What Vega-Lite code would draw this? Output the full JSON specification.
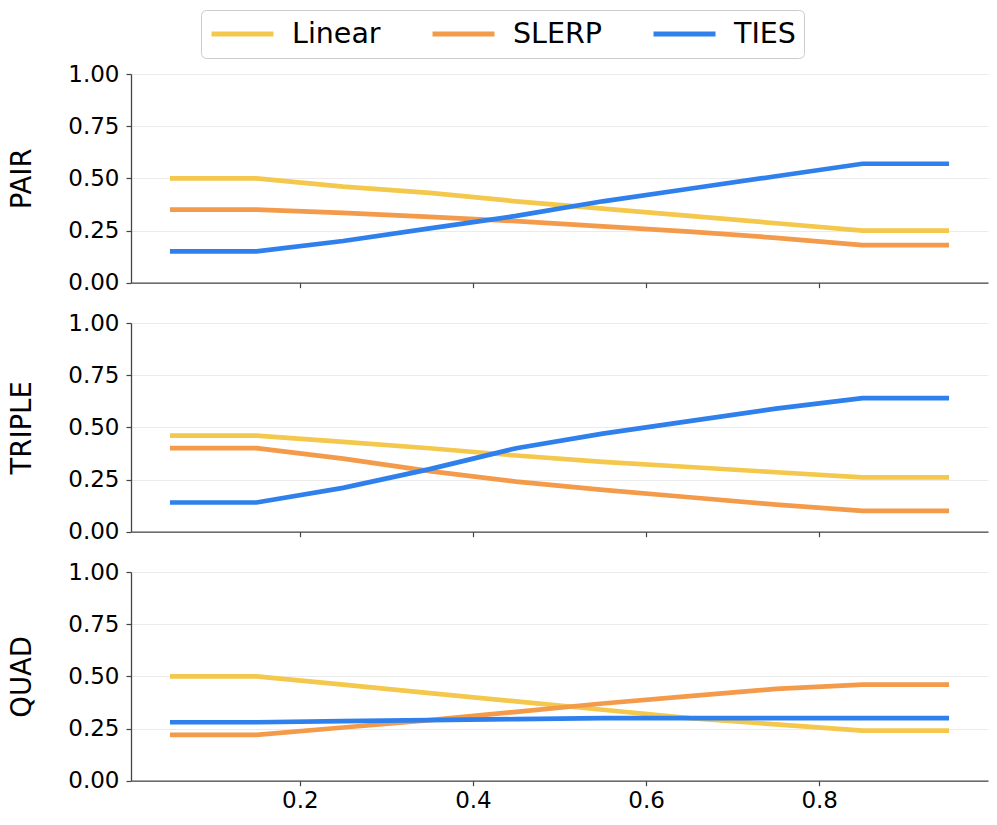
{
  "$schema": "https://vega.github.io/schema/vega-lite/v6.json",
  "padding": {"left": 8, "top": 9, "right": 5, "bottom": 5},
  "bounds": "flush",
  "spacing": 40,
  "data": {"values": [
    {"p":"PAIR","m":"Linear","x":0.05,"y":0.50},{"p":"PAIR","m":"Linear","x":0.15,"y":0.50},{"p":"PAIR","m":"Linear","x":0.25,"y":0.46},{"p":"PAIR","m":"Linear","x":0.35,"y":0.43},{"p":"PAIR","m":"Linear","x":0.45,"y":0.39},{"p":"PAIR","m":"Linear","x":0.55,"y":0.355},{"p":"PAIR","m":"Linear","x":0.65,"y":0.32},{"p":"PAIR","m":"Linear","x":0.75,"y":0.285},{"p":"PAIR","m":"Linear","x":0.85,"y":0.25},{"p":"PAIR","m":"Linear","x":0.95,"y":0.25},
    {"p":"PAIR","m":"SLERP","x":0.05,"y":0.35},{"p":"PAIR","m":"SLERP","x":0.15,"y":0.35},{"p":"PAIR","m":"SLERP","x":0.25,"y":0.335},{"p":"PAIR","m":"SLERP","x":0.35,"y":0.315},{"p":"PAIR","m":"SLERP","x":0.45,"y":0.295},{"p":"PAIR","m":"SLERP","x":0.55,"y":0.27},{"p":"PAIR","m":"SLERP","x":0.65,"y":0.245},{"p":"PAIR","m":"SLERP","x":0.75,"y":0.215},{"p":"PAIR","m":"SLERP","x":0.85,"y":0.18},{"p":"PAIR","m":"SLERP","x":0.95,"y":0.18},
    {"p":"PAIR","m":"TIES","x":0.05,"y":0.15},{"p":"PAIR","m":"TIES","x":0.15,"y":0.15},{"p":"PAIR","m":"TIES","x":0.25,"y":0.20},{"p":"PAIR","m":"TIES","x":0.35,"y":0.26},{"p":"PAIR","m":"TIES","x":0.45,"y":0.32},{"p":"PAIR","m":"TIES","x":0.55,"y":0.39},{"p":"PAIR","m":"TIES","x":0.65,"y":0.45},{"p":"PAIR","m":"TIES","x":0.75,"y":0.51},{"p":"PAIR","m":"TIES","x":0.85,"y":0.57},{"p":"PAIR","m":"TIES","x":0.95,"y":0.57},
    {"p":"TRIPLE","m":"Linear","x":0.05,"y":0.46},{"p":"TRIPLE","m":"Linear","x":0.15,"y":0.46},{"p":"TRIPLE","m":"Linear","x":0.25,"y":0.43},{"p":"TRIPLE","m":"Linear","x":0.35,"y":0.40},{"p":"TRIPLE","m":"Linear","x":0.45,"y":0.365},{"p":"TRIPLE","m":"Linear","x":0.55,"y":0.335},{"p":"TRIPLE","m":"Linear","x":0.65,"y":0.31},{"p":"TRIPLE","m":"Linear","x":0.75,"y":0.285},{"p":"TRIPLE","m":"Linear","x":0.85,"y":0.26},{"p":"TRIPLE","m":"Linear","x":0.95,"y":0.26},
    {"p":"TRIPLE","m":"SLERP","x":0.05,"y":0.40},{"p":"TRIPLE","m":"SLERP","x":0.15,"y":0.40},{"p":"TRIPLE","m":"SLERP","x":0.25,"y":0.35},{"p":"TRIPLE","m":"SLERP","x":0.35,"y":0.29},{"p":"TRIPLE","m":"SLERP","x":0.45,"y":0.24},{"p":"TRIPLE","m":"SLERP","x":0.55,"y":0.20},{"p":"TRIPLE","m":"SLERP","x":0.65,"y":0.165},{"p":"TRIPLE","m":"SLERP","x":0.75,"y":0.13},{"p":"TRIPLE","m":"SLERP","x":0.85,"y":0.10},{"p":"TRIPLE","m":"SLERP","x":0.95,"y":0.10},
    {"p":"TRIPLE","m":"TIES","x":0.05,"y":0.14},{"p":"TRIPLE","m":"TIES","x":0.15,"y":0.14},{"p":"TRIPLE","m":"TIES","x":0.25,"y":0.21},{"p":"TRIPLE","m":"TIES","x":0.35,"y":0.30},{"p":"TRIPLE","m":"TIES","x":0.45,"y":0.40},{"p":"TRIPLE","m":"TIES","x":0.55,"y":0.47},{"p":"TRIPLE","m":"TIES","x":0.65,"y":0.53},{"p":"TRIPLE","m":"TIES","x":0.75,"y":0.59},{"p":"TRIPLE","m":"TIES","x":0.85,"y":0.64},{"p":"TRIPLE","m":"TIES","x":0.95,"y":0.64},
    {"p":"QUAD","m":"Linear","x":0.05,"y":0.50},{"p":"QUAD","m":"Linear","x":0.15,"y":0.50},{"p":"QUAD","m":"Linear","x":0.25,"y":0.46},{"p":"QUAD","m":"Linear","x":0.35,"y":0.42},{"p":"QUAD","m":"Linear","x":0.45,"y":0.38},{"p":"QUAD","m":"Linear","x":0.55,"y":0.34},{"p":"QUAD","m":"Linear","x":0.65,"y":0.30},{"p":"QUAD","m":"Linear","x":0.75,"y":0.27},{"p":"QUAD","m":"Linear","x":0.85,"y":0.24},{"p":"QUAD","m":"Linear","x":0.95,"y":0.24},
    {"p":"QUAD","m":"SLERP","x":0.05,"y":0.22},{"p":"QUAD","m":"SLERP","x":0.15,"y":0.22},{"p":"QUAD","m":"SLERP","x":0.25,"y":0.255},{"p":"QUAD","m":"SLERP","x":0.35,"y":0.29},{"p":"QUAD","m":"SLERP","x":0.45,"y":0.33},{"p":"QUAD","m":"SLERP","x":0.55,"y":0.37},{"p":"QUAD","m":"SLERP","x":0.65,"y":0.405},{"p":"QUAD","m":"SLERP","x":0.75,"y":0.44},{"p":"QUAD","m":"SLERP","x":0.85,"y":0.46},{"p":"QUAD","m":"SLERP","x":0.95,"y":0.46},
    {"p":"QUAD","m":"TIES","x":0.05,"y":0.28},{"p":"QUAD","m":"TIES","x":0.15,"y":0.28},{"p":"QUAD","m":"TIES","x":0.25,"y":0.285},{"p":"QUAD","m":"TIES","x":0.35,"y":0.29},{"p":"QUAD","m":"TIES","x":0.45,"y":0.295},{"p":"QUAD","m":"TIES","x":0.55,"y":0.30},{"p":"QUAD","m":"TIES","x":0.65,"y":0.30},{"p":"QUAD","m":"TIES","x":0.75,"y":0.30},{"p":"QUAD","m":"TIES","x":0.85,"y":0.30},{"p":"QUAD","m":"TIES","x":0.95,"y":0.30}
  ]},
  "vconcat": [
    {
      "width": 857, "height": 208.7,
      "transform": [{"filter": "datum.p === 'PAIR'"}],
      "mark": {"type": "line", "strokeWidth": 4.7},
      "encoding": {
        "x": {"field": "x", "type": "quantitative", "scale": {"domain": [0.005, 0.995], "nice": false, "zero": false}, "axis": {"values": [0.2, 0.4, 0.6, 0.8], "labels": false, "title": null, "grid": false}},
        "y": {"field": "y", "type": "quantitative", "scale": {"domain": [0, 1], "nice": false}, "axis": {"values": [0, 0.25, 0.5, 0.75, 1], "format": ".2f", "title": "PAIR"}},
        "color": {"field": "m", "type": "nominal", "scale": {"domain": ["Linear", "SLERP", "TIES"], "range": ["#F4C84C", "#F39B4B", "#2F80EC"]}, "legend": {"title": null}}
      }
    },
    {
      "width": 857, "height": 208.7,
      "transform": [{"filter": "datum.p === 'TRIPLE'"}],
      "mark": {"type": "line", "strokeWidth": 4.7},
      "encoding": {
        "x": {"field": "x", "type": "quantitative", "scale": {"domain": [0.005, 0.995], "nice": false, "zero": false}, "axis": {"values": [0.2, 0.4, 0.6, 0.8], "labels": false, "title": null, "grid": false}},
        "y": {"field": "y", "type": "quantitative", "scale": {"domain": [0, 1], "nice": false}, "axis": {"values": [0, 0.25, 0.5, 0.75, 1], "format": ".2f", "title": "TRIPLE"}},
        "color": {"field": "m", "type": "nominal", "scale": {"domain": ["Linear", "SLERP", "TIES"], "range": ["#F4C84C", "#F39B4B", "#2F80EC"]}, "legend": {"title": null}}
      }
    },
    {
      "width": 857, "height": 208.7,
      "transform": [{"filter": "datum.p === 'QUAD'"}],
      "mark": {"type": "line", "strokeWidth": 4.7},
      "encoding": {
        "x": {"field": "x", "type": "quantitative", "scale": {"domain": [0.005, 0.995], "nice": false, "zero": false}, "axis": {"values": [0.2, 0.4, 0.6, 0.8], "format": ".1f", "title": null, "grid": false}},
        "y": {"field": "y", "type": "quantitative", "scale": {"domain": [0, 1], "nice": false}, "axis": {"values": [0, 0.25, 0.5, 0.75, 1], "format": ".2f", "title": "QUAD"}},
        "color": {"field": "m", "type": "nominal", "scale": {"domain": ["Linear", "SLERP", "TIES"], "range": ["#F4C84C", "#F39B4B", "#2F80EC"]}, "legend": {"title": null}}
      }
    }
  ],
  "config": {
    "font": "DejaVu Sans",
    "view": {"stroke": null},
    "axis": {
      "labelFont": "DejaVu Sans", "labelFontSize": 23, "labelColor": "#000000",
      "domainColor": "#444444", "domainWidth": 1.3, "tickColor": "#444444", "tickSize": 5, "tickWidth": 1.2,
      "labelPadding": 7, "gridColor": "#ebebeb", "gridWidth": 1,
      "titleFont": "DejaVu Sans", "titleFontSize": 27.5, "titleFontWeight": "normal", "titleColor": "#000000", "titlePadding": 31
    },
    "axisX": {"labelPadding": 4},
    "legend": {
      "orient": "none", "legendX": 70, "legendY": -64, "direction": "horizontal",
      "strokeColor": "#cccccc", "fillColor": "#ffffff", "cornerRadius": 5, "padding": 8,
      "clipHeight": 32,
      "symbolType": "stroke", "symbolSize": 3844, "symbolStrokeWidth": 5,
      "labelFont": "DejaVu Sans", "labelFontSize": 28.5, "labelColor": "#000000", "labelOffset": 16,
      "columnPadding": 49
    }
  }
}
